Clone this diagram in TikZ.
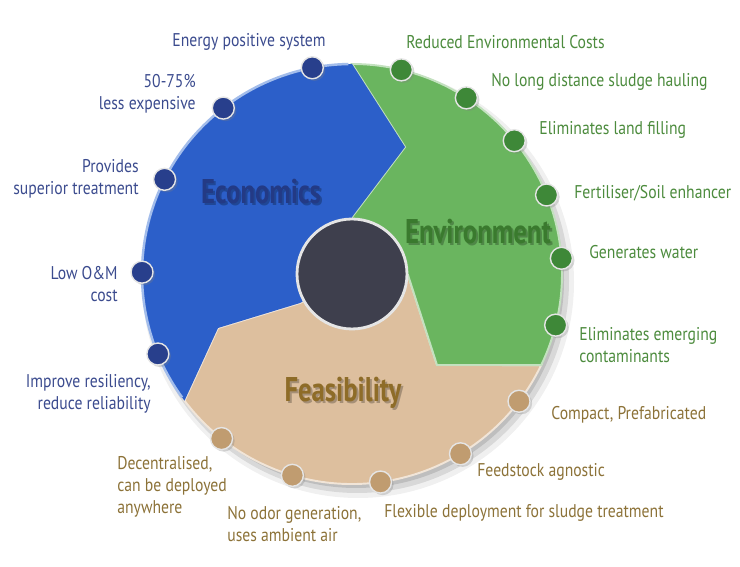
\documentclass[tikz,border=0pt]{standalone}
\usepackage{fontspec}
\setmainfont{PT Sans}[FakeStretch=0.85]
\newfontfamily\headfont{PT Sans}[FakeStretch=0.78]
\usepackage{tikz}
\usetikzlibrary{positioning,calc,shadows}

\definecolor{ecoblue}{HTML}{2C5FC9}
\definecolor{ecorim}{HTML}{A3BDEB}
\definecolor{ecodotc}{HTML}{283F8C}
\definecolor{ecotext}{HTML}{3B4B8E}
\definecolor{ecohead}{HTML}{233A85}
\definecolor{envgreen}{HTML}{6AB55F}
\definecolor{envdotc}{HTML}{3E8838}
\definecolor{envtext}{HTML}{4C8B3D}
\definecolor{envhead}{HTML}{3A7A2E}
\definecolor{feabeige}{HTML}{DDBF9E}
\definecolor{feadotc}{HTML}{C09C70}
\definecolor{featext}{HTML}{8C7238}
\definecolor{feahead}{HTML}{8E6C28}
\definecolor{hubgray}{HTML}{3E3F4D}

\begin{document}
\begin{tikzpicture}[x=0.02cm,y=0.02cm]

\tikzstyle{dot}=[circle,minimum size=0.44cm,inner sep=0pt,draw=white!80!gray,line width=0.8pt,
                 drop shadow={shadow xshift=1.2pt,shadow yshift=-1.2pt,opacity=0.3}]
\tikzstyle{ecodot}=[dot,fill=ecodotc]
\tikzstyle{envdot}=[dot,fill=envdotc]
\tikzstyle{feadot}=[dot,fill=feadotc]
\tikzstyle{lbl}=[inner sep=0pt,font=\fontsize{10.5}{12.6}\selectfont]
\tikzstyle{ecolbl}=[lbl,text=ecotext,anchor=east,align=right]
\tikzstyle{envlbl}=[lbl,text=envtext,anchor=west,align=left]
\tikzstyle{fealbl}=[lbl,text=featext,anchor=west,align=left]
\tikzstyle{head}=[inner sep=0pt,font=\headfont\bfseries\fontsize{19.5}{22}\selectfont]

\useasboundingbox (0,0) rectangle (740,567);
\coordinate (C) at (352,293);

% soft shadow
\fill[black,opacity=0.06] ($(C)+(6,-8)$) circle (216);
\fill[black,opacity=0.10] ($(C)+(5,-7)$) circle (212);
\fill[black,opacity=0.12] ($(C)+(4,-6)$) circle (208);

% sectors
\fill[feabeige,draw=white!60!feabeige,line width=1.1pt]
  ($(C)+(-25.7:210)$) arc[start angle=-25.7,end angle=-142.9,radius=210]
  -- (218,239) -- (300,264) -- (C) -- (408,292) -- (437,202) -- cycle;
\fill[envgreen,draw=white!60!envgreen,line width=1.1pt]
  ($(C)+(90:210)$) arc[start angle=90,end angle=-25.7,radius=210]
  -- (437,202) -- (408,292) -- (C) -- (352,350) -- (405,420) -- cycle;
\fill[ecoblue]
  ($(C)+(217.1:210)$) arc[start angle=217.1,end angle=90,radius=210]
  -- (405,420) -- (352,350) -- (C) -- (300,264) -- (218,239) -- cycle;
\draw[ecorim,line width=1.4pt]
  ($(C)+(216:210)$) arc[start angle=216,end angle=91,radius=210];

% hub
\node[circle,fill=hubgray,draw=white!80!gray,line width=1.6pt,minimum size=2.2cm,inner sep=0pt] (hub) at (C) {};

% headings
\node[head,text=black,opacity=0.25] at (263,373) {Economics};
\node[head,text=ecohead] (eco) at (261,375) {Economics};
\node[head,text=black,opacity=0.25] at (480,333) {Environment};
\node[head,text=envhead] (env) at (478,335) {Environment};
\node[head,text=black,opacity=0.25] at (345,172) {Feasibility};
\node[head,text=feahead] (fea) at (343,174) {Feasibility};

% economics points
\node[ecodot] (e1) at ($(C)+(100.9:210)$) {};
\node[ecodot] (e2) at ($(C)+(127.8:210)$) {};
\node[ecodot] (e3) at ($(C)+(153.2:210)$) {};
\node[ecodot] (e4) at ($(C)+(179.5:210)$) {};
\node[ecodot] (e5) at ($(C)+(202.4:210)$) {};

\node[lbl,text=ecotext] (e1t) at (249,525) {Energy positive system};
\node[ecolbl] (e2t) at (196,473) {50-75\%\\less expensive};
\node[ecolbl] (e3t) at (139,388) {Provides\\superior treatment};
\node[ecolbl] (e4t) at (118,283) {Low O\&M\\cost};
\node[ecolbl] (e5t) at (151,173) {Improve resiliency,\\reduce reliability};

% environment points
\node[envdot] (v1) at ($(C)+(76.4:210)$) {};
\node[envdot] (v2) at ($(C)+(57:210)$) {};
\node[envdot] (v3) at ($(C)+(39.4:210)$) {};
\node[envdot] (v4) at ($(C)+(22.1:210)$) {};
\node[envdot] (v5) at ($(C)+(4.3:210)$) {};
\node[envdot] (v6) at ($(C)+(-14.1:210)$) {};

\node[envlbl] (v1t) at (406,525) {Reduced Environmental Costs};
\node[envlbl] (v2t) at (491,485) {No long distance sludge hauling};
\node[envlbl] (v3t) at (539,437) {Eliminates land filling};
\node[envlbl] (v4t) at (574,374) {Fertiliser/Soil enhancer};
\node[envlbl] (v5t) at (589,315) {Generates water};
\node[envlbl] (v6t) at (579,222) {Eliminates emerging\\contaminants};

% feasibility points
\node[feadot] (f1) at ($(C)+(-37.3:210)$) {};
\node[feadot] (f2) at ($(C)+(-58.9:210)$) {};
\node[feadot] (f3) at ($(C)+(-82.2:210)$) {};
\node[feadot] (f4) at ($(C)+(-106.5:210)$) {};
\node[feadot] (f5) at ($(C)+(-128.4:210)$) {};

\node[fealbl] (f1t) at (551,152) {Compact, Prefabricated};
\node[fealbl] (f2t) at (477,95) {Feedstock agnostic};
\node[fealbl] (f3t) at (384,54) {Flexible deployment for sludge treatment};
\node[fealbl] (f4t) at (227,43) {No odor generation,\\uses ambient air};
\node[fealbl] (f5t) at (117,80) {Decentralised,\\can be deployed\\anywhere};

\end{tikzpicture}
\end{document}
